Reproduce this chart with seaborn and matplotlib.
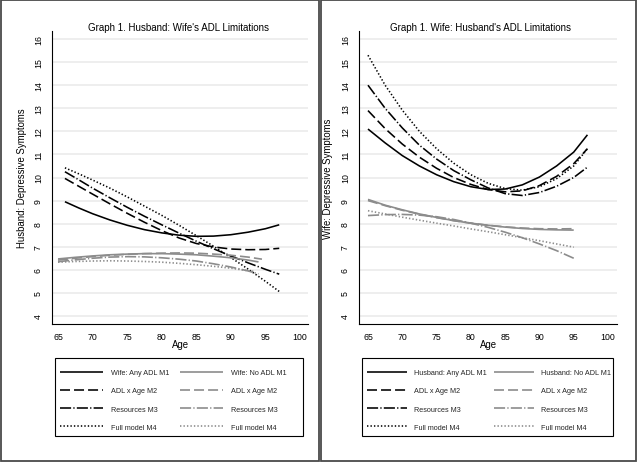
import matplotlib
matplotlib.use("Agg")
import matplotlib.pyplot as plt
from matplotlib.patches import Rectangle
import seaborn as sns
import pandas as pd

# ---------------- data ----------------
# Left panel: Husband's depressive symptoms by wife's ADL limitations
left_age_black = [66, 68, 70, 72.5, 75, 77.5, 80, 82.5, 85, 87.5, 90, 92.5, 95, 97]
wife_any_m1 = [8.95, 8.68, 8.43, 8.16, 7.93, 7.74, 7.60, 7.50, 7.45, 7.46, 7.52, 7.63, 7.78, 7.95]
wife_any_m2 = [9.96, 9.62, 9.28, 8.86, 8.45, 8.06, 7.70, 7.38, 7.14, 6.99, 6.90, 6.87, 6.88, 6.93]
wife_any_m3 = [10.25, 9.90, 9.54, 9.12, 8.71, 8.32, 7.95, 7.59, 7.24, 6.91, 6.60, 6.30, 6.02, 5.81]
wife_any_m4 = [10.42, 10.16, 9.89, 9.54, 9.16, 8.76, 8.36, 7.93, 7.48, 7.02, 6.53, 6.03, 5.50, 5.06]

left_age_g1 = [65, 67.5, 70, 72.5, 75, 77.5, 80, 82.5, 85, 87.5, 90, 92.5, 94]
wife_no_m1 = [6.47, 6.54, 6.60, 6.65, 6.68, 6.70, 6.70, 6.68, 6.65, 6.59, 6.52, 6.42, 6.34]
left_age_g2 = [65, 67.5, 70, 72.5, 75, 77.5, 80, 82.5, 85, 87.5, 90, 92.5, 94.5]
wife_no_m2 = [6.42, 6.50, 6.57, 6.63, 6.67, 6.70, 6.72, 6.73, 6.72, 6.68, 6.63, 6.55, 6.46]
left_age_g3 = [65, 67.5, 70, 72.5, 75, 77.5, 80, 82.5, 85, 87.5, 90, 92.5, 94]
wife_no_m3 = [6.35, 6.43, 6.50, 6.55, 6.57, 6.56, 6.52, 6.46, 6.38, 6.26, 6.12, 5.95, 5.82]
left_age_g4 = [65, 67.5, 70, 72.5, 75, 77.5, 80, 82.5, 85, 87.5, 90, 92.5, 93.5]
wife_no_m4 = [6.33, 6.36, 6.38, 6.39, 6.38, 6.36, 6.33, 6.28, 6.22, 6.15, 6.07, 5.96, 5.92]

# Right panel: Wife's depressive symptoms by husband's ADL limitations
right_age_black = [65, 67.5, 70, 72.5, 75, 77.5, 80, 82.5, 85, 87.5, 90, 92.5, 95, 97]
husb_any_m1 = [12.10, 11.50, 10.95, 10.50, 10.12, 9.82, 9.60, 9.48, 9.50, 9.68, 10.02, 10.50, 11.10, 11.85]
husb_any_m2 = [12.90, 12.12, 11.45, 10.88, 10.40, 10.00, 9.70, 9.48, 9.38, 9.42, 9.65, 10.05, 10.60, 11.25]
husb_any_m3 = [14.00, 13.00, 12.15, 11.40, 10.80, 10.30, 9.90, 9.55, 9.30, 9.22, 9.35, 9.62, 10.00, 10.45]
husb_any_m4 = [15.30, 14.00, 12.92, 12.00, 11.25, 10.62, 10.12, 9.75, 9.52, 9.45, 9.60, 9.95, 10.50, 11.25]

right_age_gray = [65, 67.5, 70, 72.5, 75, 77.5, 80, 82.5, 85, 87.5, 90, 92.5, 95]
husb_no_m1 = [9.05, 8.80, 8.60, 8.42, 8.27, 8.13, 8.02, 7.93, 7.85, 7.79, 7.75, 7.73, 7.72]
husb_no_m2 = [9.00, 8.78, 8.58, 8.41, 8.26, 8.13, 8.02, 7.93, 7.86, 7.81, 7.78, 7.77, 7.78]
husb_no_m3 = [8.35, 8.39, 8.40, 8.37, 8.30, 8.18, 8.02, 7.84, 7.63, 7.39, 7.12, 6.83, 6.50]
husb_no_m4 = [8.56, 8.42, 8.28, 8.15, 8.02, 7.90, 7.77, 7.65, 7.52, 7.39, 7.26, 7.12, 6.98]

left_labels = ["Wife: Any ADL M1", "ADL x Age M2", "Resources M3", "Full model M4",
               "Wife: No ADL M1", "ADL x Age M2", "Resources M3", "Full model M4"]
right_labels = ["Husband: Any ADL M1", "ADL x Age M2", "Resources M3", "Full model M4",
                "Husband: No ADL M1", "ADL x Age M2", "Resources M3", "Full model M4"]
titles = ["Graph 1. Husband: Wife's ADL Limitations", "Graph 1. Wife: Husband's ADL Limitations"]
ylabels = ["Husband: Depressive Symptoms", "Wife: Depressive Symptoms"]
xticks = [65, 70, 75, 80, 85, 90, 95, 100]
yticks = [4, 5, 6, 7, 8, 9, 10, 11, 12, 13, 14, 15, 16]

# ---------------- style ----------------
sns.set_theme(style="white")
plt.rcParams['font.family'] = ['Liberation Sans', 'DejaVu Sans']
plt.rcParams['lines.scale_dashes'] = False
plt.rcParams['lines.solid_capstyle'] = 'butt'
plt.rcParams['lines.dash_capstyle'] = 'butt'

BLACK = "#000000"
GRAY = "#8c8c8c"
styles = [
    (BLACK, 1.15, '-'),
    (BLACK, 1.15, (0, (7.2, 2.9))),
    (BLACK, 1.15, (0, (8.0, 1.6, 0.9, 1.6))),
    (BLACK, 1.15, (0, (1.0, 1.5))),
    (GRAY, 1.2, '-'),
    (GRAY, 1.2, (0, (7.2, 2.9))),
    (GRAY, 1.2, (0, (8.0, 1.6, 0.9, 1.6))),
    (GRAY, 1.2, (0, (1.0, 1.5))),
]

left_series = [(left_age_black, wife_any_m1), (left_age_black, wife_any_m2),
               (left_age_black, wife_any_m3), (left_age_black, wife_any_m4),
               (left_age_g1, wife_no_m1), (left_age_g2, wife_no_m2),
               (left_age_g3, wife_no_m3), (left_age_g4, wife_no_m4)]
right_series = [(right_age_black, husb_any_m1), (right_age_black, husb_any_m2),
                (right_age_black, husb_any_m3), (right_age_black, husb_any_m4),
                (right_age_gray, husb_no_m1), (right_age_gray, husb_no_m2),
                (right_age_gray, husb_no_m3), (right_age_gray, husb_no_m4)]

W, H = 640, 464
fig = plt.figure(figsize=(6.4, 4.64), dpi=100)
fig.patch.set_facecolor("white")


def fx(px):
    return px / W


def fy(py):
    return 1 - py / H


panels = [
    dict(ax_px=(52, 32, 308, 325), xlim=(64.13, 101.16), series=left_series, labels=left_labels,
         title=titles[0], title_x=178, ylabel=ylabels[0], ylab_x=27,
         box=(55, 359, 303, 437), leg_x=60, hl=6.0, htp=1.1, cs=1.4,
         border=(1, 1, 319, 462)),
    dict(ax_px=(359, 32, 617, 325), xlim=(63.69, 101.31), series=right_series, labels=right_labels,
         title=titles[1], title_x=480, ylabel=ylabels[1], ylab_x=333,
         box=(362, 359, 613, 437), leg_x=367, hl=5.6, htp=0.95, cs=0.9,
         border=(321, 1, 636, 462)),
]

for p in panels:
    x0, y0, x1, y1 = p["ax_px"]
    ax = fig.add_axes([fx(x0), fy(y1), fx(x1 - x0), (y1 - y0) / H])
    handles = []
    for (ages, vals), (c, lw, ls), lab in zip(p["series"], styles, p["labels"]):
        df = pd.DataFrame({"Age": ages, "y": vals})
        sns.lineplot(data=df, x="Age", y="y", ax=ax, color=c, linewidth=lw,
                     linestyle=ls, label=lab, legend=False)
        handles.append(ax.get_lines()[-1])
    ax.set_xlim(*p["xlim"])
    ax.set_ylim(3.65, 16.35)
    ax.set_xticks(xticks)
    ax.set_yticks(yticks)
    ax.yaxis.grid(True, color="#e9e9e9", linewidth=1.1)
    ax.xaxis.grid(False)
    ax.set_axisbelow(True)
    for s in ["top", "right"]:
        ax.spines[s].set_visible(False)
    for s in ["left", "bottom"]:
        ax.spines[s].set_color("black")
        ax.spines[s].set_linewidth(0.8)
    ax.tick_params(axis="both", which="major", direction="out", length=3.6, width=0.7,
                   color="black", labelsize=6.3, labelcolor="black")
    ax.tick_params(axis="y", pad=3.0)
    ax.tick_params(axis="x", pad=1.8)
    for t in ax.get_yticklabels():
        t.set_rotation(90)
        t.set_va("center")
        t.set_ha("right")
    ax.set_xlabel("Age", fontsize=6.9, color="black")
    ax.xaxis.set_label_coords(0.5, (y1 - 340) / (y1 - y0))
    ax.set_ylabel(p["ylabel"], fontsize=6.9, color="black")
    ax.yaxis.set_label_coords((p["ylab_x"] - x0) / (x1 - x0), 0.5)

    fig.text(fx(p["title_x"]), fy(31), p["title"], ha="center", va="baseline",
             fontsize=7.0, color="black")

    bx0, by0, bx1, by1 = p["box"]
    fig.patches.append(Rectangle((fx(bx0), fy(by1)), fx(bx1 - bx0), (by1 - by0) / H,
                                 transform=fig.transFigure, fill=False,
                                 edgecolor="black", linewidth=0.8))
    ax.legend(handles, p["labels"], ncol=2, loc="upper left",
              bbox_to_anchor=(fx(p["leg_x"]), fy(370)), bbox_transform=fig.transFigure,
              frameon=False, borderpad=0, borderaxespad=0, fontsize=5.2,
              handlelength=p["hl"], handletextpad=p["htp"], columnspacing=p["cs"],
              labelspacing=1.55)

    ex0, ey0, ex1, ey1 = p["border"]
    fig.patches.append(Rectangle((fx(ex0), fy(ey1)), fx(ex1 - ex0), (ey1 - ey0) / H,
                                 transform=fig.transFigure, fill=False,
                                 edgecolor="#4a4a4a", linewidth=1.3))

fig.savefig("out.png", dpi=100, facecolor="white")
